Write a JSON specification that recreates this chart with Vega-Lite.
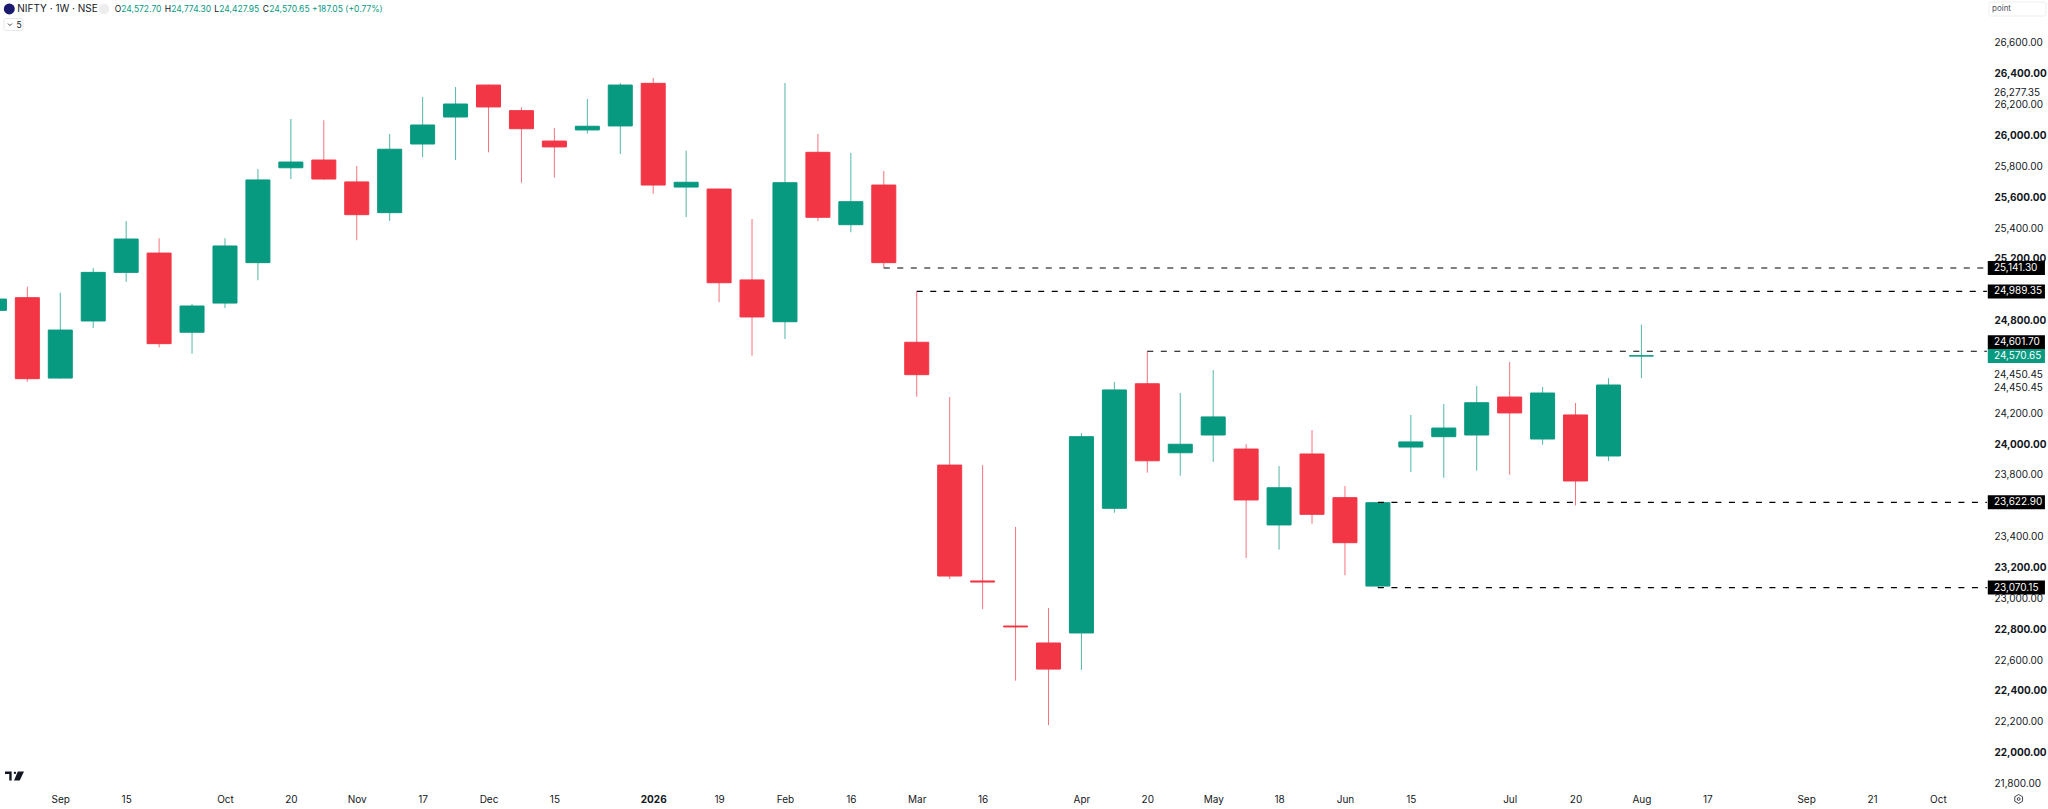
{
"$schema":"https://vega.github.io/schema/vega-lite/v6.json",
"width":2048,"height":809,"autosize":{"type":"none"},"padding":0,"background":"#ffffff",
"config":{"view":{"stroke":null},"font":"Inter"},
"datasets":{
"candles":[
{"date":"2025-08-18","open":24867,"high":24945,"low":24862,"close":24940,"dir":"up"},
{"date":"2025-08-25","open":24949,"high":25020,"low":24404,"close":24424,"dir":"down"},
{"date":"2025-09-01","open":24428,"high":24982,"low":24425,"close":24739,"dir":"up"},
{"date":"2025-09-08","open":24798,"high":25141,"low":24752,"close":25113,"dir":"up"},
{"date":"2025-09-15","open":25113,"high":25446,"low":25051,"close":25329,"dir":"up"},
{"date":"2025-09-22","open":25238,"high":25334,"low":24627,"close":24651,"dir":"down"},
{"date":"2025-09-29","open":24725,"high":24908,"low":24586,"close":24895,"dir":"up"},
{"date":"2025-10-06","open":24914,"high":25334,"low":24882,"close":25284,"dir":"up"},
{"date":"2025-10-13","open":25176,"high":25783,"low":25062,"close":25712,"dir":"up"},
{"date":"2025-10-20","open":25791,"high":26107,"low":25718,"close":25828,"dir":"up"},
{"date":"2025-10-27","open":25841,"high":26099,"low":25712,"close":25718,"dir":"down"},
{"date":"2025-11-03","open":25699,"high":25802,"low":25321,"close":25487,"dir":"down"},
{"date":"2025-11-10","open":25500,"high":26010,"low":25446,"close":25911,"dir":"up"},
{"date":"2025-11-17","open":25945,"high":26250,"low":25859,"close":26068,"dir":"up"},
{"date":"2025-11-24","open":26120,"high":26314,"low":25841,"close":26204,"dir":"up"},
{"date":"2025-12-01","open":26327,"high":26330,"low":25891,"close":26185,"dir":"down"},
{"date":"2025-12-08","open":26161,"high":26183,"low":25694,"close":26044,"dir":"down"},
{"date":"2025-12-15","open":25964,"high":26049,"low":25727,"close":25926,"dir":"down"},
{"date":"2025-12-22","open":26036,"high":26237,"low":26012,"close":26060,"dir":"up"},
{"date":"2025-12-29","open":26062,"high":26340,"low":25880,"close":26327,"dir":"up"},
{"date":"2026-01-05","open":26338,"high":26373,"low":25623,"close":25679,"dir":"down"},
{"date":"2026-01-12","open":25666,"high":25902,"low":25472,"close":25697,"dir":"up"},
{"date":"2026-01-19","open":25653,"high":25655,"low":24919,"close":25046,"dir":"down"},
{"date":"2026-01-26","open":25064,"high":25459,"low":24573,"close":24824,"dir":"down"},
{"date":"2026-02-02","open":24793,"high":26340,"low":24681,"close":25694,"dir":"up"},
{"date":"2026-02-09","open":25891,"high":26010,"low":25446,"close":25470,"dir":"down"},
{"date":"2026-02-16","open":25422,"high":25887,"low":25373,"close":25571,"dir":"up"},
{"date":"2026-02-23","open":25679,"high":25770,"low":25141.3,"close":25176,"dir":"down"},
{"date":"2026-03-02","open":24660,"high":24989.35,"low":24307,"close":24450,"dir":"down"},
{"date":"2026-03-09","open":23864,"high":24305,"low":23126,"close":23145,"dir":"down"},
{"date":"2026-03-16","open":23113,"high":23864,"low":22931,"close":23106,"dir":"down"},
{"date":"2026-03-23","open":22821,"high":23463,"low":22467,"close":22815,"dir":"down"},
{"date":"2026-03-30","open":22711,"high":22938,"low":22179,"close":22542,"dir":"down"},
{"date":"2026-04-06","open":22776,"high":24072,"low":22536,"close":24048,"dir":"up"},
{"date":"2026-04-13","open":23584,"high":24403,"low":23555,"close":24351,"dir":"up"},
{"date":"2026-04-20","open":24391,"high":24601.7,"low":23815,"close":23892,"dir":"down"},
{"date":"2026-04-27","open":23944,"high":24331,"low":23795,"close":23999,"dir":"up"},
{"date":"2026-05-04","open":24059,"high":24480,"low":23884,"close":24176,"dir":"up"},
{"date":"2026-05-11","open":23968,"high":23999,"low":23262,"close":23638,"dir":"down"},
{"date":"2026-05-18","open":23476,"high":23858,"low":23316,"close":23717,"dir":"up"},
{"date":"2026-05-25","open":23936,"high":24091,"low":23484,"close":23545,"dir":"down"},
{"date":"2026-06-01","open":23653,"high":23728,"low":23150,"close":23361,"dir":"down"},
{"date":"2026-06-08","open":23080,"high":23622.9,"low":23070.15,"close":23620,"dir":"up"},
{"date":"2026-06-15","open":23981,"high":24189,"low":23819,"close":24014,"dir":"up"},
{"date":"2026-06-22","open":24048,"high":24260,"low":23782,"close":24104,"dir":"up"},
{"date":"2026-06-29","open":24059,"high":24377,"low":23828,"close":24268,"dir":"up"},
{"date":"2026-07-06","open":24305,"high":24532,"low":23802,"close":24202,"dir":"down"},
{"date":"2026-07-13","open":24033,"high":24370,"low":23996,"close":24331,"dir":"up"},
{"date":"2026-07-20","open":24189,"high":24266,"low":23603,"close":23761,"dir":"down"},
{"date":"2026-07-27","open":23923,"high":24428,"low":23890,"close":24383,"dir":"up"},
{"date":"2026-08-03","open":24572.7,"high":24774.3,"low":24427.95,"close":24570.65,"dir":"up"}
],
"levels":[
{"price":25141.30,"date":"2026-02-23"},
{"price":24989.35,"date":"2026-03-02"},
{"price":24601.70,"date":"2026-04-20"},
{"price":23622.90,"date":"2026-06-08"},
{"price":23070.15,"date":"2026-06-08"}
],
"tags":[
{"labelAt":25141.30,"label":"25,141.30","dir":"level"},
{"labelAt":24989.35,"label":"24,989.35","dir":"level"},
{"labelAt":24660,"label":"24,601.70","dir":"level"},
{"labelAt":24570.65,"label":"24,570.65","dir":"up"},
{"labelAt":23622.90,"label":"23,622.90","dir":"level"},
{"labelAt":23070.15,"label":"23,070.15","dir":"level"}
],
"extraLabels":[
{"labelAt":26277.35,"label":"26,277.35"},
{"labelAt":24450.45,"label":"24,450.45"},
{"labelAt":24364,"label":"24,450.45"}
],
"headerDark":[
{"label":"O","date":"2025-09-12T13:30:00Z"},
{"label":"H","date":"2025-09-23T04:30:00Z"},
{"label":"L","date":"2025-10-03T17:30:00Z"},
{"label":"C","date":"2025-10-14T00:30:00Z"}
],
"headerTeal":[
{"label":"24,572.70","date":"2025-09-13T23:15:00Z"},
{"label":"24,774.30","date":"2025-09-24T14:10:00Z"},
{"label":"24,427.95","date":"2025-10-04T19:00:00Z"},
{"label":"24,570.65","date":"2025-10-15T10:00:00Z"},
{"label":"+187.05 (+0.77%)","date":"2025-10-24T12:00:00Z"}
]
},
"layer":[
{"data":{"name":"candles"},
 "mark":{"type":"rule","strokeWidth":1,"opacity":0.7},
 "encoding":{
  "x":{"field":"date","type":"temporal","title":null,
   "scale":{"type":"utc","padding":0,"domain":["2025-08-19T04:33:00Z","2026-10-28T09:36:00Z"]},
   "axis":{"orient":"bottom","offset":-10,"domain":false,"ticks":false,"tickSize":0,"grid":false,"labelPadding":0,"labelBaseline":"middle","labelAlign":"center","labelFont":"Inter","labelFontSize":10,"labelColor":"#131722","labelOverlap":false,"labelFlush":false,
    "labelFontWeight":{"condition":{"test":"utcmonth(datum.value)==0 && utcdate(datum.value)<=7","value":"bold"},"value":"normal"},
    "labelExpr":"utcmonth(datum.value)==0 && utcdate(datum.value)<=7 ? '2026' : utcdate(datum.value)<=7 ? utcFormat(datum.value,'%b') : utcFormat(datum.value,'%-d')",
    "values":[
     {"year":2025,"month":9,"date":1,"utc":true},{"year":2025,"month":9,"date":15,"utc":true},{"year":2025,"month":10,"date":6,"utc":true},{"year":2025,"month":10,"date":20,"utc":true},{"year":2025,"month":11,"date":3,"utc":true},{"year":2025,"month":11,"date":17,"utc":true},{"year":2025,"month":12,"date":1,"utc":true},{"year":2025,"month":12,"date":15,"utc":true},{"year":2026,"month":1,"date":5,"utc":true},{"year":2026,"month":1,"date":19,"utc":true},{"year":2026,"month":2,"date":2,"utc":true},{"year":2026,"month":2,"date":16,"utc":true},{"year":2026,"month":3,"date":2,"utc":true},{"year":2026,"month":3,"date":16,"utc":true},{"year":2026,"month":4,"date":6,"utc":true},{"year":2026,"month":4,"date":20,"utc":true},{"year":2026,"month":5,"date":4,"utc":true},{"year":2026,"month":5,"date":18,"utc":true},{"year":2026,"month":6,"date":1,"utc":true},{"year":2026,"month":6,"date":15,"utc":true},{"year":2026,"month":7,"date":6,"utc":true},{"year":2026,"month":7,"date":20,"utc":true},{"year":2026,"month":8,"date":3,"utc":true},{"year":2026,"month":8,"date":17,"utc":true},{"year":2026,"month":9,"date":7,"utc":true},{"year":2026,"month":9,"date":21,"utc":true},{"year":2026,"month":10,"date":5,"utc":true}
    ]}},
  "y":{"field":"low","type":"quantitative","title":null,
   "scale":{"domain":[21635.1,26878.2],"nice":false,"zero":false,"padding":0},
   "axis":{"orient":"right","offset":-54,"domain":false,"ticks":false,"tickSize":0,"grid":false,"labelPadding":0,"labelAlign":"left","labelFont":"Inter","labelFontSize":10,"labelColor":"#131722","labelOverlap":false,"format":",.2f",
    "labelFontWeight":{"condition":{"test":"datum.value % 400 == 0","value":"bold"},"value":"normal"},
    "values":[26600,26400,26200,26000,25800,25600,25400,25200,24800,24200,24000,23800,23400,23200,23000,22800,22600,22400,22200,22000,21800]}},
  "y2":{"field":"high"},
  "color":{"field":"dir","type":"nominal","legend":null,"scale":{"domain":["up","down","level"],"range":["#089981","#F23645","#000000"]}}
 }},
{"data":{"name":"candles"},
 "mark":{"type":"bar","orient":"vertical","size":24,"strokeWidth":1},
 "encoding":{
  "x":{"field":"date","type":"temporal"},
  "y":{"field":"open","type":"quantitative"},
  "y2":{"field":"close"},
  "color":{"field":"dir","type":"nominal","legend":null},
  "stroke":{"field":"dir","type":"nominal","legend":null,"scale":{"domain":["up","down"],"range":["#089981","#F23645"]}}
 }},
{"data":{"name":"levels"},
 "mark":{"type":"rule","color":"#000000","strokeWidth":1.2,"strokeDash":[6,7.5]},
 "encoding":{
  "x":{"field":"date","type":"temporal"},
  "x2":{"datum":{"year":2026,"month":10,"date":15,"hours":10,"utc":true}},
  "y":{"field":"price","type":"quantitative"}
 }},
{"data":{"name":"extraLabels"},
 "mark":{"type":"text","align":"left","baseline":"middle","font":"Inter","fontSize":10,"color":"#131722"},
 "encoding":{
  "x":{"datum":{"year":2026,"month":10,"date":16,"hours":22,"utc":true},"type":"temporal"},
  "y":{"field":"labelAt","type":"quantitative"},
  "text":{"field":"label"}
 }},
{"data":{"name":"tags"},
 "mark":{"type":"bar","orient":"horizontal","size":14},
 "encoding":{
  "x":{"datum":{"year":2026,"month":10,"date":15,"hours":14,"minutes":30,"utc":true},"type":"temporal"},
  "x2":{"datum":{"year":2026,"month":10,"date":27,"hours":18,"utc":true}},
  "y":{"field":"labelAt","type":"quantitative"},
  "color":{"field":"dir","type":"nominal","legend":null}
 }},
{"data":{"name":"tags"},
 "mark":{"type":"text","align":"left","baseline":"middle","font":"Inter","fontSize":10,"color":"#ffffff"},
 "encoding":{
  "x":{"datum":{"year":2026,"month":10,"date":16,"hours":22,"utc":true},"type":"temporal"},
  "y":{"field":"labelAt","type":"quantitative"},
  "text":{"field":"label"}
 }},
{"data":{"values":[{"label":"NIFTY · 1W · NSE"}]},
 "mark":{"type":"text","align":"left","baseline":"middle","font":"Inter","fontSize":10,"color":"#131722"},
 "encoding":{
  "x":{"datum":{"year":2025,"month":8,"date":22,"hours":20,"minutes":53,"utc":true},"type":"temporal"},
  "y":{"datum":26820,"type":"quantitative"},
  "text":{"field":"label"}
 }},
{"data":{"name":"headerDark"},
 "mark":{"type":"text","align":"left","baseline":"middle","font":"Inter","fontSize":8.5,"color":"#131722"},
 "encoding":{
  "x":{"field":"date","type":"temporal"},
  "y":{"datum":26820,"type":"quantitative"},
  "text":{"field":"label"}
 }},
{"data":{"name":"headerTeal"},
 "mark":{"type":"text","align":"left","baseline":"middle","font":"Inter","fontSize":8.5,"color":"#089981"},
 "encoding":{
  "x":{"field":"date","type":"temporal"},
  "y":{"datum":26820,"type":"quantitative"},
  "text":{"field":"label"}
 }},
{"data":{"values":[{"item":"logo"}]},
 "mark":{"type":"point","filled":true,"size":120,"color":"#1a1a6e","opacity":1},
 "encoding":{
  "x":{"datum":{"year":2025,"month":8,"date":21,"hours":4,"utc":true},"type":"temporal"},
  "y":{"datum":26820,"type":"quantitative"}
 }},
{"data":{"values":[{"item":"minus"}]},
 "mark":{"type":"point","filled":true,"size":110,"color":"#eeeeef","opacity":1},
 "encoding":{
  "x":{"datum":{"year":2025,"month":9,"date":10,"hours":7,"utc":true},"type":"temporal"},
  "y":{"datum":26820,"type":"quantitative"}
 }},
{"data":{"values":[{"item":"box"}]},
 "mark":{"type":"bar","orient":"horizontal","size":12,"fill":"#ffffff","stroke":"#e6e7ea","strokeWidth":1,"cornerRadius":2},
 "encoding":{
  "x":{"datum":{"year":2025,"month":8,"date":20,"hours":1,"utc":true},"type":"temporal"},
  "x2":{"datum":{"year":2025,"month":8,"date":24,"hours":2,"utc":true}},
  "y":{"datum":26719,"type":"quantitative"}
 }},
{"data":{"values":[{"item":"chevron"}]},
 "mark":{"type":"point","shape":"M-1,-0.5L0,0.5L1,-0.5","size":16,"stroke":"#131722","strokeWidth":0.8,"filled":false,"opacity":1},
 "encoding":{
  "x":{"datum":{"year":2025,"month":8,"date":21,"hours":7,"minutes":30,"utc":true},"type":"temporal"},
  "y":{"datum":26719,"type":"quantitative"}
 }},
{"data":{"values":[{"label":"5"}]},
 "mark":{"type":"text","align":"left","baseline":"middle","font":"Inter","fontSize":8.5,"color":"#131722"},
 "encoding":{
  "x":{"datum":{"year":2025,"month":8,"date":22,"hours":17,"utc":true},"type":"temporal"},
  "y":{"datum":26719,"type":"quantitative"},
  "text":{"field":"label"}
 }},
{"data":{"values":[{"item":"pointbox"}]},
 "mark":{"type":"bar","orient":"horizontal","size":14,"fill":"#ffffff","stroke":"#eeeff1","strokeWidth":1,"cornerRadius":2},
 "encoding":{
  "x":{"datum":{"year":2026,"month":10,"date":15,"hours":21,"utc":true},"type":"temporal"},
  "x2":{"datum":{"year":2026,"month":10,"date":27,"hours":23,"minutes":30,"utc":true}},
  "y":{"datum":26820,"type":"quantitative"}
 }},
{"data":{"values":[{"label":"point"}]},
 "mark":{"type":"text","align":"left","baseline":"middle","font":"Inter","fontSize":8,"color":"#50535e"},
 "encoding":{
  "x":{"datum":{"year":2026,"month":10,"date":16,"hours":12,"utc":true},"type":"temporal"},
  "y":{"datum":26820,"type":"quantitative"},
  "text":{"field":"label"}
 }},
{"data":{"values":[{"item":"tv"}]},
 "mark":{"type":"point","shape":"M-1,-0.47L-0.3,-0.47L-0.3,0.47L-0.55,0.47L-0.55,-0.2L-1,-0.2Z M-0.08,-0.33A0.13,0.13 0 1 0 0.18,-0.33A0.13,0.13 0 1 0 -0.08,-0.33Z M0.35,-0.47L1,-0.47L0.55,0.47L-0.05,0.47Z","size":361,"filled":true,"color":"#131722","opacity":1},
 "encoding":{
  "x":{"datum":{"year":2025,"month":8,"date":22,"hours":6,"minutes":30,"utc":true},"type":"temporal"},
  "y":{"datum":21849,"type":"quantitative"}
 }},
{"data":{"values":[{"item":"gear"}]},
 "mark":{"type":"point","shape":"M0,-1L0.87,-0.5L0.87,0.5L0,1L-0.87,0.5L-0.87,-0.5Z","size":80,"filled":false,"stroke":"#131722","strokeWidth":0.8,"opacity":1},
 "encoding":{
  "x":{"datum":{"year":2026,"month":10,"date":22,"hours":4,"utc":true},"type":"temporal"},
  "y":{"datum":21700,"type":"quantitative"}
 }},
{"data":{"values":[{"item":"gearDot"}]},
 "mark":{"type":"point","shape":"circle","size":8,"filled":false,"stroke":"#131722","strokeWidth":0.8,"opacity":1},
 "encoding":{
  "x":{"datum":{"year":2026,"month":10,"date":22,"hours":4,"utc":true},"type":"temporal"},
  "y":{"datum":21700,"type":"quantitative"}
 }}
]
}
